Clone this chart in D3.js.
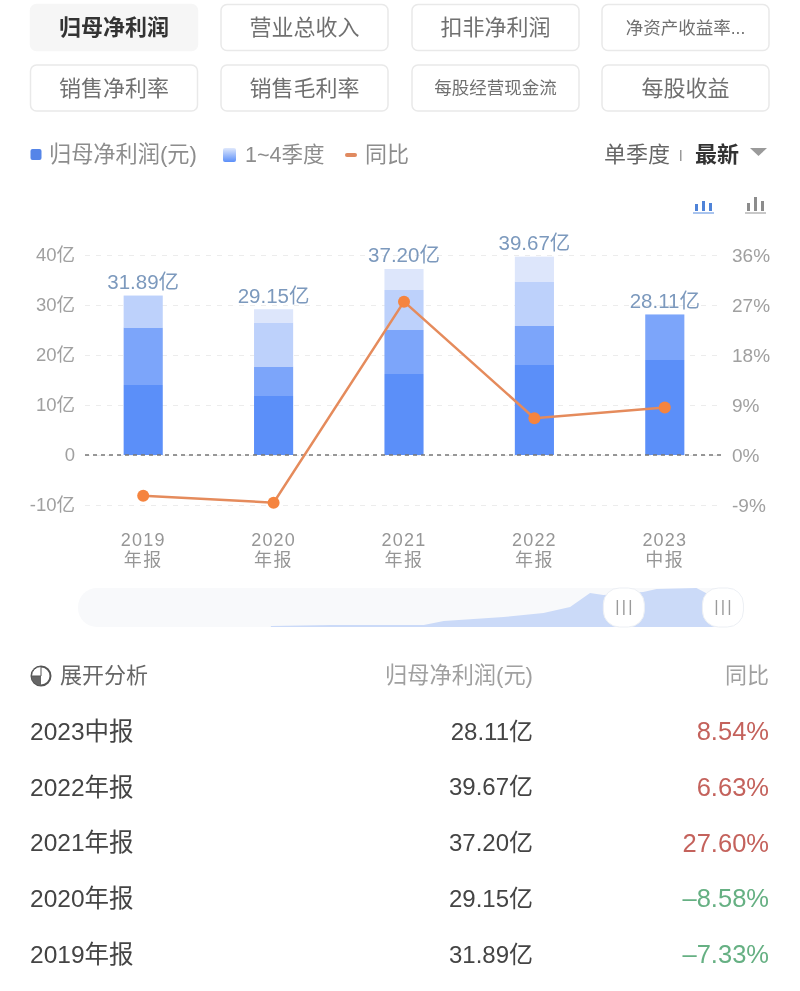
<!DOCTYPE html>
<html>
<head>
<meta charset="utf-8">
<script src="https://cdn.jsdelivr.net/npm/d3@7"></script>
<style>
  html, body { margin: 0; padding: 0; background: #fff; }
  svg { display: block; filter: blur(0.4px); }
  text { font-family: "Liberation Sans", "Noto Sans CJK SC", sans-serif; }
</style>
</head>
<body>
<div id="chart"></div>
<script>
// Chart data
const years = ["2019", "2020", "2021", "2022", "2023"];
const kinds = ["年报", "年报", "年报", "年报", "中报"];
const q1 = [14.0, 11.8, 16.2, 18.0, 19.0];
const q2 = [11.5, 5.9, 8.8, 7.8, 9.11];
const q3 = [6.39, 8.8, 8.0, 8.9, 0];
const q4 = [0, 2.65, 4.2, 4.97, 0];
const totals = [31.89, 29.15, 37.20, 39.67, 28.11];
const yoy = [-7.33, -8.58, 27.60, 6.63, 8.54];
const leftTicks = [-10, 0, 10, 20, 30, 40];
const rightTicks = [-9, 0, 9, 18, 27, 36];

// Overview strip under the chart
const overviewPos = [29, 38, 52, 55, 64, 70, 74, 77, 79, 85, 87, 93, 95, 96];
const overviewVal = [1, 2, 2, 6, 10, 14, 20, 34, 32, 35, 38, 39, 32, 0];

// Table
const rowNames = ["2023中报", "2022年报", "2021年报", "2020年报", "2019年报"];
const rowTotals = ["28.11亿", "39.67亿", "37.20亿", "29.15亿", "31.89亿"];
const rowYoy = ["8.54%", "6.63%", "27.60%", "–8.58%", "–7.33%"];

// Buttons
const buttons = ["归母净利润", "营业总收入", "扣非净利润", "净资产收益率...",
                 "销售净利率", "销售毛利率", "每股经营现金流", "每股收益"];

const width = 800;
const height = 991;
const svg = d3.select("#chart").append("svg")
  .attr("width", width)
  .attr("height", height);

// Buttons at the top
const btnX = [30.5, 221, 412, 602];
const btnY = [4.5, 65];
const btn = svg.selectAll(".btn")
  .data(buttons)
  .enter()
  .append("g")
  .attr("class", "btn")
  .attr("transform", (d, i) => "translate(" + btnX[i % 4] + "," + btnY[Math.floor(i / 4)] + ")");

btn.append("rect")
  .attr("width", 167)
  .attr("height", 46)
  .attr("rx", 6)
  .attr("fill", (d, i) => i === 0 ? "#f6f6f6" : "#fff")
  .attr("stroke", (d, i) => i === 0 ? "#f6f6f6" : "#e9e9e9")
  .attr("stroke-width", 1.5);

btn.append("text")
  .attr("x", 83.5)
  .attr("y", 23)
  .attr("dy", "0.36em")
  .attr("text-anchor", "middle")
  .attr("font-size", d => d.length > 5 ? 17.5 : 22)
  .attr("font-weight", (d, i) => i === 0 ? 700 : 400)
  .attr("fill", (d, i) => i === 0 ? "#333" : "#707070")
  .text(d => d);

// Legend row
const defs = svg.append("defs");
const legendGrad = defs.append("linearGradient")
  .attr("id", "legend-grad")
  .attr("x1", 0).attr("y1", 0).attr("x2", 0).attr("y2", 1);
legendGrad.append("stop").attr("offset", "0%").attr("stop-color", "#dfe8fc");
legendGrad.append("stop").attr("offset", "100%").attr("stop-color", "#5b8ff9");

svg.append("rect").attr("x", 30.5).attr("y", 149).attr("width", 11).attr("height", 11).attr("rx", 2).attr("fill", "#5585e8");
svg.append("rect").attr("x", 223).attr("y", 148).attr("width", 13).attr("height", 14).attr("rx", 2).attr("fill", "url(#legend-grad)");
svg.append("rect").attr("x", 345).attr("y", 153).attr("width", 12).attr("height", 4).attr("rx", 2).attr("fill", "#e08a60");

function label(x, y, str, size, color, anchor, weight) {
  return svg.append("text")
    .attr("x", x)
    .attr("y", y)
    .attr("dy", "0.36em")
    .attr("text-anchor", anchor || "start")
    .attr("font-size", size)
    .attr("font-weight", weight || 400)
    .attr("fill", color)
    .text(str);
}

label(49, 154, "归母净利润(元)", 22.2, "#8d8d8d");
label(245, 154, "1~4季度", 21.5, "#8d8d8d");
label(365, 154, "同比", 22, "#8d8d8d");
label(604, 154, "单季度", 22, "#666");
label(695, 154, "最新", 22, "#333", "start", 700);
svg.append("rect").attr("x", 680).attr("y", 150).attr("width", 1.5).attr("height", 11).attr("fill", "#999");
svg.append("path").attr("d", "M750,148 L767,148 L758.5,156 Z").attr("fill", "#9a9a9a");

// Little chart type icons
const iconBlue = svg.append("g").attr("transform", "translate(693,195)").attr("fill", "#4f83d8");
[[2, 9, 3, 7], [9, 6, 3, 10], [16, 8, 3, 8]].forEach(b => {
  iconBlue.append("rect").attr("x", b[0]).attr("y", b[1]).attr("width", b[2]).attr("height", b[3]);
});
iconBlue.append("rect").attr("x", 0).attr("y", 17).attr("width", 21).attr("height", 2).attr("fill", "#a9c4ee");
const iconGrey = svg.append("g").attr("transform", "translate(745,195)").attr("fill", "#8c8c8c");
[[2, 8, 3, 8], [9, 2, 3, 14], [16, 6, 3, 10]].forEach(b => {
  iconGrey.append("rect").attr("x", b[0]).attr("y", b[1]).attr("width", b[2]).attr("height", b[3]);
});
iconGrey.append("rect").attr("x", 0).attr("y", 17).attr("width", 21).attr("height", 2).attr("fill", "#c8c8c8");

// Scales
const x = d3.scaleBand().domain(years).range([78, 730]).paddingInner(0.7).paddingOuter(0.35);
const yLeft = d3.scaleLinear().domain([-10, 40]).range([505, 255]);
const yRight = d3.scaleLinear().domain([-9, 36]).range([505, 255]);

// Axes with the grid drawn from the left ticks
const leftAxis = svg.append("g")
  .attr("transform", "translate(85,0)")
  .call(d3.axisLeft(yLeft)
    .tickValues(leftTicks)
    .tickSize(-638)
    .tickPadding(10)
    .tickFormat(d => d === 0 ? "0" : d + "亿"));
leftAxis.select(".domain").remove();
leftAxis.selectAll("line")
  .attr("stroke", "#ececec")
  .attr("stroke-dasharray", "5,6");
leftAxis.selectAll("text")
  .attr("font-size", 18.5)
  .attr("fill", "#a0a0a0");
leftAxis.attr("font-family", null);

const rightAxis = svg.append("g")
  .attr("transform", "translate(732,0)")
  .call(d3.axisRight(yRight)
    .tickValues(rightTicks)
    .tickSize(0)
    .tickPadding(0)
    .tickFormat(d => d + "%"));
rightAxis.select(".domain").remove();
rightAxis.selectAll("text")
  .attr("font-size", 19)
  .attr("fill", "#a0a0a0");
rightAxis.attr("font-family", null);

// Two line labels, years and report kind as separate texts
const labelX = d => x(d) + x.bandwidth() / 2;

svg.selectAll(".year-label")
  .data(years)
  .enter()
  .append("text")
  .attr("class", "year-label")
  .attr("x", d => labelX(d))
  .attr("y", 540)
  .attr("dy", "0.36em")
  .attr("text-anchor", "middle")
  .attr("font-size", 18)
  .attr("letter-spacing", 1.2)
  .attr("fill", "#969696")
  .text(d => d);

svg.selectAll(".kind-label")
  .data(kinds)
  .enter()
  .append("text")
  .attr("class", "kind-label")
  .attr("x", (d, i) => labelX(years[i]))
  .attr("y", 560)
  .attr("dy", "0.36em")
  .attr("text-anchor", "middle")
  .attr("font-size", 18)
  .attr("letter-spacing", 1.5)
  .attr("fill", "#969696")
  .text(d => d);

// Stacked bars
const barRows = years.map((y, i) => ({ year: y, q1: q1[i], q2: q2[i], q3: q3[i], q4: q4[i] }));
const stack = d3.stack().keys(["q1", "q2", "q3", "q4"]);
const barColor = d3.scaleOrdinal()
  .domain(["q1", "q2", "q3", "q4"])
  .range(["#5b8ff9", "#7ca5fa", "#bdd1fb", "#dde6fb"]);

svg.selectAll(".series")
  .data(stack(barRows))
  .enter()
  .append("g")
  .attr("class", "series")
  .attr("fill", d => barColor(d.key))
  .selectAll("rect")
  .data(d => d)
  .enter()
  .append("rect")
  .attr("x", d => x(d.data.year))
  .attr("width", x.bandwidth())
  .attr("y", d => yLeft(d[1]))
  .attr("height", d => yLeft(d[0]) - yLeft(d[1]));

// Zero line sits on top of the bars
svg.append("line")
  .attr("x1", 85)
  .attr("x2", 723)
  .attr("y1", yLeft(0))
  .attr("y2", yLeft(0))
  .attr("stroke", "#777")
  .attr("stroke-width", 1.6)
  .attr("stroke-dasharray", "4,4");

// Bar total labels
svg.selectAll(".bar-label")
  .data(totals)
  .enter()
  .append("text")
  .attr("class", "bar-label")
  .attr("x", (d, i) => x(years[i]) + x.bandwidth() / 2)
  .attr("y", d => yLeft(d) - 14)
  .attr("dy", "0.36em")
  .attr("text-anchor", "middle")
  .attr("font-size", 20.5)
  .attr("fill", "#7c99bd")
  .text(d => d.toFixed(2) + "亿");

// Year on year line
const line = d3.line()
  .x((d, i) => x(years[i]) + x.bandwidth() / 2)
  .y(d => yRight(d));

svg.append("path")
  .datum(yoy)
  .attr("d", line)
  .attr("fill", "none")
  .attr("stroke", "#e58b5c")
  .attr("stroke-width", 2.5);

svg.selectAll(".dot")
  .data(yoy)
  .enter()
  .append("circle")
  .attr("class", "dot")
  .attr("cx", (d, i) => x(years[i]) + x.bandwidth() / 2)
  .attr("cy", d => yRight(d))
  .attr("r", 6)
  .attr("fill", "#f5843f");

// Overview strip
const ovX = d3.scaleLinear().domain([0, 100]).range([78, 743]);
const ovY = d3.scaleLinear().domain([0, 39]).range([627, 588]);

svg.append("rect")
  .attr("x", 78).attr("y", 588)
  .attr("width", 665).attr("height", 39)
  .attr("rx", 19)
  .attr("fill", "#f8f9fb");

const ovArea = d3.area()
  .x((d, i) => ovX(overviewPos[i]))
  .y0(ovY(0))
  .y1(d => ovY(d));

svg.append("path")
  .datum(overviewVal)
  .attr("d", ovArea)
  .attr("fill", "#cbdaf8");

const handles = svg.selectAll(".handle")
  .data([79, 93.9])
  .enter()
  .append("g")
  .attr("class", "handle")
  .attr("transform", d => "translate(" + ovX(d) + ",588)");

handles.append("rect")
  .attr("width", 41)
  .attr("height", 39)
  .attr("rx", 16)
  .attr("fill", "#fff")
  .attr("stroke", "#eceff4");

handles.selectAll("line")
  .data([14, 20.5, 27])
  .enter()
  .append("line")
  .attr("x1", d => d)
  .attr("x2", d => d)
  .attr("y1", 12)
  .attr("y2", 27)
  .attr("stroke", "#9a9a9a")
  .attr("stroke-width", 1.4);

// Table header
const pie = d3.arc();
svg.append("circle").attr("cx", 41).attr("cy", 676).attr("r", 9.5)
  .attr("fill", "none").attr("stroke", "#555").attr("stroke-width", 2);
svg.append("path")
  .attr("transform", "translate(41,676)")
  .attr("d", pie({ innerRadius: 0, outerRadius: 9.5, startAngle: -Math.PI, endAngle: 0 }))
  .attr("fill", "#666");
svg.append("path")
  .attr("transform", "translate(41,676)")
  .attr("d", pie({ innerRadius: 0, outerRadius: 9.5, startAngle: -Math.PI / 2, endAngle: 0 }))
  .attr("fill", "#fff")
  .attr("stroke", "#555")
  .attr("stroke-width", 1);

label(60, 675, "展开分析", 22, "#666");
label(533, 675, "归母净利润(元)", 22.2, "#a0a0a0", "end");
label(769, 675, "同比", 22, "#a0a0a0", "end");

// Table rows
const rowY = d3.scalePoint().domain(rowNames).range([731, 954]);

svg.selectAll(".row-name")
  .data(rowNames)
  .enter()
  .append("text")
  .attr("class", "row-name")
  .attr("x", 30)
  .attr("y", d => rowY(d))
  .attr("dy", "0.36em")
  .attr("font-size", 24.5)
  .attr("fill", "#444")
  .text(d => d);

svg.selectAll(".row-total")
  .data(rowTotals)
  .enter()
  .append("text")
  .attr("class", "row-total")
  .attr("x", 533)
  .attr("y", (d, i) => rowY(rowNames[i]))
  .attr("dy", "0.36em")
  .attr("text-anchor", "end")
  .attr("font-size", 24)
  .attr("fill", "#444")
  .text(d => d);

svg.selectAll(".row-yoy")
  .data(rowYoy)
  .enter()
  .append("text")
  .attr("class", "row-yoy")
  .attr("x", 769)
  .attr("y", (d, i) => rowY(rowNames[i]))
  .attr("dy", "0.36em")
  .attr("text-anchor", "end")
  .attr("font-size", 25.5)
  .attr("fill", d => d[0] === "–" ? "#66b083" : "#c4625c")
  .text(d => d);
</script>
</body>
</html>
